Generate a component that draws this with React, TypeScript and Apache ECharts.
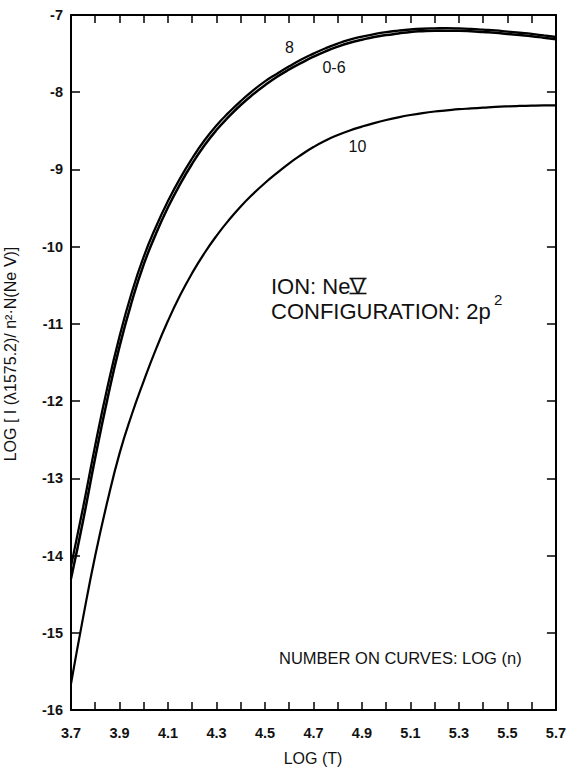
import React, { useEffect, useRef } from "react";
import * as echarts from "echarts";

// log T sample points (uniform 0.05 steps)
const LOG_T = [3.7, 3.75, 3.8, 3.85, 3.9, 3.95, 4.0, 4.05, 4.1, 4.15, 4.2, 4.25, 4.3, 4.35, 4.4, 4.45, 4.5, 4.55, 4.6, 4.65, 4.7, 4.75, 4.8, 4.85, 4.9, 4.95, 5.0, 5.05, 5.1, 5.15, 5.2, 5.25, 5.3, 5.35, 5.4, 5.45, 5.5, 5.55, 5.6, 5.65, 5.7];

// curve log(n) = 0-6
const CURVE_0_6 = [-14.3, -13.545, -12.73, -11.975, -11.295, -10.72, -10.23, -9.835, -9.49, -9.19, -8.925, -8.69, -8.49, -8.32, -8.165, -8.03, -7.91, -7.8, -7.705, -7.62, -7.54, -7.47, -7.41, -7.36, -7.32, -7.285, -7.26, -7.24, -7.22, -7.21, -7.205, -7.205, -7.205, -7.21, -7.22, -7.23, -7.245, -7.26, -7.275, -7.295, -7.315];

// curve log(n) = 8
const CURVE_8 = [-14.14, -13.375, -12.57, -11.825, -11.165, -10.6, -10.13, -9.745, -9.41, -9.115, -8.855, -8.625, -8.43, -8.265, -8.115, -7.98, -7.86, -7.76, -7.665, -7.576, -7.5, -7.43, -7.37, -7.32, -7.28, -7.248, -7.222, -7.203, -7.188, -7.178, -7.173, -7.17, -7.173, -7.18, -7.19, -7.2, -7.215, -7.23, -7.245, -7.265, -7.285];

// curve log(n) = 10
const CURVE_10 = [-15.66, -14.8, -14.0, -13.3, -12.68, -12.18, -11.74, -11.33, -10.96, -10.63, -10.34, -10.085, -9.86, -9.66, -9.48, -9.32, -9.175, -9.045, -8.92, -8.81, -8.71, -8.625, -8.555, -8.495, -8.445, -8.4, -8.36, -8.325, -8.295, -8.27, -8.25, -8.235, -8.22, -8.21, -8.2, -8.19, -8.183, -8.178, -8.174, -8.171, -8.17];

const X_MIN = 3.7;
const X_MAX = 5.7;
const Y_MIN = -16;
const Y_MAX = -7;

const CURVE_LABELS = ["8", "0-6", "10"];
const Y_TITLE = "LOG [ I (λ1575.2)/ n²·N(Ne Ⅴ)]";
const X_TITLE = "LOG (T)";
const ION_TEXT = "ION: NeV";
const CONFIG_TEXT = "CONFIGURATION: 2p";
const NOTE_TEXT = "NUMBER ON CURVES: LOG (n)";

const FONT = '"Liberation Sans", Arial, Helvetica, sans-serif';

export default function App() {
  const ref = useRef<HTMLDivElement>(null);
  useEffect(() => {
    if (!ref.current) return;
    const chart = echarts.init(ref.current, undefined, { renderer: "svg" });
    const pairs = (ys: number[]) => LOG_T.map((x, i) => [x, ys[i]]);
    const axisLine = { show: true, lineStyle: { color: "#000", width: 2 } };
    const xTickFmt = (v: number) => {
      const k = Math.round((v - X_MIN) * 10);
      return k % 2 === 0 ? v.toFixed(1) : "";
    };
    const lineSeries = (name: string, ys: number[], width: number) => ({
      name,
      type: "line",
      data: pairs(ys),
      showSymbol: false,
      symbol: "none",
      smooth: 0.5,
      lineStyle: { color: "#000", width },
      z: 3,
    });
    chart.setOption({
      animation: false,
      backgroundColor: "#fff",
      grid: { left: 71, right: 12, top: 15, bottom: 57, containLabel: false },
      xAxis: [
        {
          type: "value",
          position: "bottom",
          min: X_MIN,
          max: X_MAX,
          interval: 0.1,
          axisLine,
          axisTick: { show: true, inside: true, length: 8, lineStyle: { color: "#000", width: 1.5 } },
          axisLabel: {
            show: true,
            margin: 15,
            formatter: xTickFmt,
            color: "#111",
            fontFamily: FONT,
            fontSize: 14.5,
            fontWeight: "bold",
            showMinLabel: true,
            showMaxLabel: true,
          },
          splitLine: { show: false },
        },
        {
          type: "value",
          position: "top",
          min: X_MIN,
          max: X_MAX,
          interval: 0.1,
          axisLine,
          axisTick: { show: true, inside: true, length: 8, lineStyle: { color: "#000", width: 1.5 } },
          axisLabel: { show: false },
          splitLine: { show: false },
        },
      ],
      yAxis: [
        {
          type: "value",
          position: "left",
          min: Y_MIN,
          max: Y_MAX,
          interval: 1,
          axisLine,
          axisTick: { show: true, inside: true, length: 9, lineStyle: { color: "#000", width: 1.5 } },
          axisLabel: {
            show: true,
            margin: 8,
            color: "#111",
            fontFamily: FONT,
            fontSize: 14.5,
            fontWeight: "bold",
            formatter: (v: number) => String(v),
          },
          splitLine: { show: false },
        },
        {
          type: "value",
          position: "right",
          min: Y_MIN,
          max: Y_MAX,
          interval: 1,
          axisLine,
          axisTick: { show: true, inside: true, length: 9, lineStyle: { color: "#000", width: 1.5 } },
          axisLabel: { show: false },
          splitLine: { show: false },
        },
      ],
      series: [
        lineSeries("0-6", CURVE_0_6, 2.5),
        lineSeries("8", CURVE_8, 2.3),
        lineSeries("10", CURVE_10, 2.2),
      ],
      graphic: [
        {
          type: "text",
          x: 10,
          y: 354,
          rotation: Math.PI / 2,
          style: { text: Y_TITLE, font: `16px ${FONT}`, fill: "#111", align: "center", verticalAlign: "middle" },
        },
        {
          type: "text",
          x: 313,
          y: 758,
          style: { text: X_TITLE, font: `16px ${FONT}`, fill: "#111", align: "center", verticalAlign: "middle" },
        },
        {
          type: "text",
          x: 289.5,
          y: 47.5,
          style: { text: CURVE_LABELS[0], font: `16px ${FONT}`, fill: "#111", align: "center", verticalAlign: "middle" },
        },
        {
          type: "text",
          x: 334,
          y: 67,
          style: { text: CURVE_LABELS[1], font: `16px ${FONT}`, fill: "#111", align: "center", verticalAlign: "middle" },
        },
        {
          type: "text",
          x: 357.5,
          y: 146.7,
          style: { text: CURVE_LABELS[2], font: `16px ${FONT}`, fill: "#111", align: "center", verticalAlign: "middle" },
        },
        {
          type: "text",
          x: 271,
          y: 286,
          style: { text: ION_TEXT, font: `22px ${FONT}`, fill: "#111", align: "left", verticalAlign: "middle" },
        },
        {
          type: "line",
          shape: { x1: 349.5, y1: 278.5, x2: 366.5, y2: 278.5 },
          style: { stroke: "#111", lineWidth: 1.6 },
        },
        {
          type: "line",
          shape: { x1: 349.5, y1: 293.5, x2: 366.5, y2: 293.5 },
          style: { stroke: "#111", lineWidth: 1.6 },
        },
        {
          type: "text",
          x: 271,
          y: 311,
          style: { text: CONFIG_TEXT, font: `22px ${FONT}`, fill: "#111", align: "left", verticalAlign: "middle" },
        },
        {
          type: "text",
          x: 494,
          y: 299,
          style: { text: "2", font: `15px ${FONT}`, fill: "#111", align: "left", verticalAlign: "middle" },
        },
        {
          type: "text",
          x: 279,
          y: 658,
          style: { text: NOTE_TEXT, font: `16.5px ${FONT}`, fill: "#111", align: "left", verticalAlign: "middle" },
        },
      ],
    });
    return () => chart.dispose();
  }, []);
  return (
    <div
      ref={ref}
      style={{ position: "fixed", left: 0, top: 0, width: 569, height: 767, background: "#fff" }}
    />
  );
}
